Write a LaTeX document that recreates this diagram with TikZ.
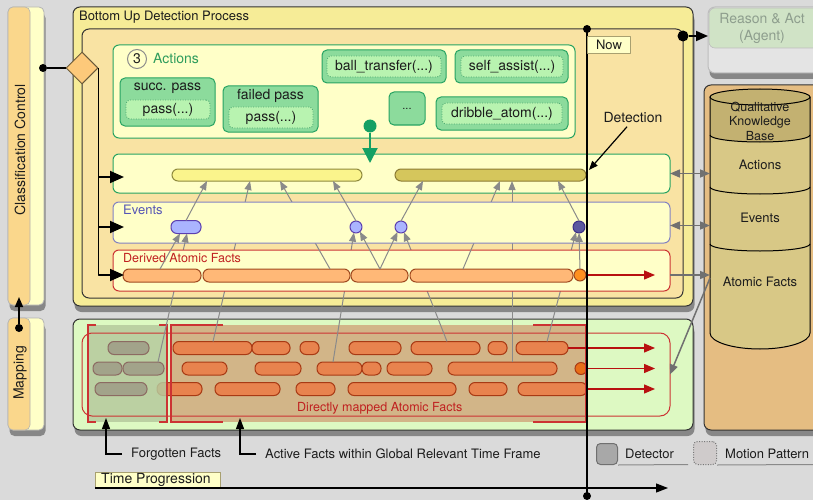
\documentclass[tikz,border=0pt]{standalone}
\usepackage{fontspec}
\setmainfont{TeX Gyre Heros}
\usetikzlibrary{shapes.geometric,arrows.meta,shadows}

\pgfdeclarelayer{bgl}
\pgfdeclarelayer{maplinks}
\pgfdeclarelayer{derl}
\pgfdeclarelayer{derlinks}
\pgfdeclarelayer{evl}
\pgfsetlayers{bgl,maplinks,derl,derlinks,evl,main}

\definecolor{bgc}{HTML}{DADADA}
\definecolor{txtc}{HTML}{1C1C1C}
\definecolor{dkc}{HTML}{333333}
\definecolor{edgec}{HTML}{B4B4B4}
\definecolor{paley}{HTML}{FFFFC8}
\definecolor{clsor}{HTML}{FAD78C}
\definecolor{budpc}{HTML}{F6EC97}
\definecolor{innerc}{HTML}{F9E3A3}
\definecolor{actg}{HTML}{27A362}
\definecolor{acttc}{HTML}{2E9C5C}
\definecolor{actfill}{HTML}{8CDB9C}
\definecolor{actin}{HTML}{B8F3B0}
\definecolor{actdot}{HTML}{4CA870}
\definecolor{grayc}{HTML}{8C8C8C}
\definecolor{ybarc}{HTML}{FAF48C}
\definecolor{ybarbc}{HTML}{8F8A3C}
\definecolor{obarc}{HTML}{D5C65C}
\definecolor{obarbc}{HTML}{8C7C34}
\definecolor{evbc}{HTML}{8282C2}
\definecolor{evtc}{HTML}{5555B5}
\definecolor{evpc}{HTML}{AAB4FF}
\definecolor{evpb}{HTML}{5B3FB0}
\definecolor{evdk}{HTML}{5B58A0}
\definecolor{evdkb}{HTML}{3B2E88}
\definecolor{redc}{HTML}{CC3333}
\definecolor{redtc}{HTML}{C02020}
\definecolor{redarc}{HTML}{B81010}
\definecolor{dpillc}{HTML}{FFB877}
\definecolor{dpillb}{HTML}{A04A20}
\definecolor{docc}{HTML}{FF9020}
\definecolor{mpillc}{HTML}{E8834E}
\definecolor{mpillb}{HTML}{A83A14}
\definecolor{mcirc}{HTML}{E86E18}
\definecolor{gpillc}{HTML}{A2A38A}
\definecolor{gpillb}{HTML}{8C6A62}
\definecolor{mapg}{HTML}{DDF9C2}
\definecolor{forg}{HTML}{B6C99D}
\definecolor{actv}{HTML}{D2B588}
\definecolor{kbc}{HTML}{E5BD82}
\definecolor{cylc}{HTML}{D8C886}
\definecolor{cyltc}{HTML}{C3B171}
\definecolor{agbody}{HTML}{E4E4E4}
\definecolor{agb}{HTML}{BDBDBD}
\definecolor{agentg}{HTML}{D0E3C6}
\definecolor{agentt}{HTML}{8E9E8E}
\definecolor{linkc}{HTML}{8A8A8A}
\definecolor{kbac}{HTML}{707070}
\definecolor{diamc}{HTML}{FDC97A}
\definecolor{dmb}{HTML}{6A5A3A}
\definecolor{pinc}{HTML}{14A064}
\definecolor{nowb}{HTML}{A8A070}
\definecolor{detf}{HTML}{A8A8A8}
\definecolor{detb}{HTML}{707070}
\definecolor{mpf}{HTML}{CFCBCB}
\definecolor{mpb}{HTML}{777777}
\definecolor{ulc}{HTML}{8A8A8A}

\newcommand\fsz[1]{\fontsize{#1}{#1}\selectfont}
% rectangle node given by its corners (x1,y1)-(x2,y2), y growing downwards
\newcommand\boxat[6]{\node[#6,anchor=north west,minimum width={(#4-#2)*1pt},minimum height={(#5-#3)*1pt},inner sep=0pt,outer sep=0pt] (#1) at (#2,#3) {};}
% horizontal pill from x1 to x2 centred on y
\newcommand\pillat[5]{\node[#5,minimum width={(#3-#2)*1pt}] (#1) at ({(#2+#3)/2},#4) {};}

% links that end on event items
\newcommand\linkLa{\draw[link] ([xshift=14.5pt]g2b.north) -- ([xshift=1pt]bp.south);}
\newcommand\linkLc{\draw[link] ([xshift=-6.5pt]m2c.north) -- (c1.250);}
\newcommand\linkLd{\draw[link] ([xshift=1.5pt]m1e.north) -- (c2.300);}
\newcommand\linkLf{\draw[link] ([xshift=5pt]m1g.north) -- (dc.240);}
\newcommand\linkDa{\draw[link] ([xshift=-2pt]d1.north) -- ([xshift=-6pt]bp.south);}
\newcommand\linkDc{\draw[link] ([xshift=0.5pt]d3.north) -- (c1.310);}
\newcommand\linkDd{\draw[link] ([xshift=0.5pt]d3.north) -- (c2.235);}
\newcommand\linkDf{\draw[link] (doc.north) -- (dc.south);}

\begin{document}
\begin{tikzpicture}[x=1pt,y=-1pt,font=\fsz{13},line join=round,
  every node/.append style={text=txtc},
  pillb/.style={draw,rounded corners=6pt,minimum height=13pt,inner sep=0pt,outer sep=0pt,line width=1pt},
  dpill/.style={pillb,fill=dpillc,draw=dpillb},
  mpill/.style={pillb,fill=mpillc,draw=mpillb},
  gpill/.style={pillb,fill=gpillc,draw=gpillb},
  barshape/.style={draw,rounded corners=6pt,minimum height=12pt,inner sep=0pt,outer sep=0pt,line width=1pt},
  rnd/.style={circle,minimum size=12pt,inner sep=0pt,outer sep=0pt,line width=1pt,draw},
  link/.style={draw=linkc,line width=1pt,-{Triangle[length=9pt,width=7pt]}},
  ctl/.style={draw=black,line width=1.8pt},
  ctlarr/.style={ctl,-{Triangle[length=14pt,width=12pt]}},
  kbarr/.style={draw=kbac,line width=1.5pt},
  bdot/.style={circle,fill=black,minimum size=8pt,inner sep=0pt,outer sep=0pt},
  lbl/.style={inner sep=0pt},
  abox/.style={draw=actg,fill=actfill,rounded corners=5pt,line width=1pt},
  ibox/.style={draw=actdot,dash pattern=on 1pt off 1.5pt,fill=actin,rounded corners=4pt,line width=0.8pt},
  shad/.style={drop shadow={shadow xshift=1.5pt,shadow yshift=-6pt,opacity=0.38,fill=black}},
  redarr/.style={draw=redarc,line width=1.3pt,-{Triangle[length=11pt,width=9pt]}},
  legarr/.style={draw=black,line width=1.2pt,-{Triangle[length=11pt,width=8pt]}},
  brk/.style={draw=redc,line width=1.2pt}]

\useasboundingbox (0,0) rectangle (813,500);

\begin{pgfonlayer}{bgl}
\fill[bgc] (0,0) rectangle (813,500);

% left control columns
\boxat{cls}{8}{7}{44}{305}{draw=edgec,fill=paley,rounded corners=5pt,line width=0.8pt,shad}
\boxat{clso}{8}{7}{30}{305}{draw=edgec,fill=clsor,rounded corners=5pt,line width=0.6pt}
\node[lbl,rotate=90,font=\fsz{14}] (clst) at (20,150) {Classification Control};
\boxat{mcol}{8}{318}{44}{430}{draw=edgec,fill=paley,rounded corners=5pt,line width=0.8pt,shad}
\boxat{mcolo}{8}{318}{30}{430}{draw=edgec,fill=clsor,rounded corners=5pt,line width=0.6pt}
\node[lbl,rotate=90,font=\fsz{14}] (mcolt) at (20,373) {Mapping};

% bottom up detection process
\boxat{bu}{73}{7}{693}{306}{draw=dkc,fill=budpc,rounded corners=7pt,line width=1pt,shad}
\node[lbl,anchor=west] (but) at (79,17) {Bottom Up Detection Process};
\boxat{inb}{82}{29}{683}{298}{draw=dkc,fill=innerc,rounded corners=7pt,line width=1pt}

% actions catalogue
\boxat{act}{113}{45}{575}{138}{draw=actg,fill=paley,rounded corners=6pt,line width=1pt}
\node[circle,draw=grayc,fill=paley,line width=1pt,minimum size=19pt,inner sep=0pt,font=\fsz{14}] (n3) at (137,59) {3};
\node[lbl,anchor=west,text=acttc,font=\fsz{14}] (actt) at (153,59) {Actions};

\boxat{sp}{120}{78}{215}{126}{abox}
\node[lbl,font=\fsz{14}] (spt) at (167.5,88) {succ. pass};
\boxat{spi}{126}{100}{210}{119}{ibox}
\node[lbl,font=\fsz{14}] (spit) at (spi.center) {pass(...)};

\boxat{fp}{223}{86}{318}{132}{abox}
\node[lbl,font=\fsz{14}] (fpt) at (270.5,96) {failed pass};
\boxat{fpi}{229}{107}{313}{128}{ibox}
\node[lbl,font=\fsz{14}] (fpit) at (fpi.center) {pass(...)};

\boxat{bt}{322}{50}{446}{83}{abox}
\boxat{bti}{327}{56}{441}{77}{ibox}
\node[lbl,font=\fsz{14}] (btit) at (bti.center) {ball\_transfer(...)};

\boxat{sa}{455}{50}{568}{83}{abox}
\boxat{sai}{461}{56}{563}{77}{ibox}
\node[lbl,font=\fsz{14}] (sait) at (sai.center) {self\_assist(...)};

\boxat{ell}{389}{92}{425}{125}{abox}
\node[lbl,font=\fsz{11}] (ellt) at (ell.center) {...};

\boxat{da}{436}{97}{568}{130}{abox}
\boxat{dai}{442}{103}{562}{124}{ibox}
\node[lbl,font=\fsz{14}] (dait) at (dai.center) {dribble\_atom(...)};

% detected actions
\boxat{det}{113}{154}{670}{193}{draw=actg,fill=paley,rounded corners=6pt,line width=1pt}
\pillat{yb}{172}{362}{175}{barshape,fill=ybarc,draw=ybarbc}
\pillat{ob}{395}{586}{175}{barshape,fill=obarc,draw=obarbc}

% mapping area
\boxat{mp}{73}{319}{693}{430}{draw=dkc,fill=mapg,rounded corners=7pt,line width=1pt,shad}
\fill[actv] (171,325) rectangle (586,422);
\pillat{m3a}{157}{202}{389}{mpill}
\fill[forg,opacity=0.85] (88,325) rectangle (167,422);

\pillat{g1a}{108}{149}{348}{gpill}
\pillat{g2a}{93}{122}{368.5}{gpill}
\pillat{g2b}{123}{164}{368.5}{gpill}
\pillat{g3a}{95}{147}{389}{gpill}

\pillat{m1a}{173}{252}{348}{mpill}
\pillat{m1b}{252}{290}{348}{mpill}
\pillat{m1c}{300}{319}{348}{mpill}
\pillat{m1d}{349}{401}{348}{mpill}
\pillat{m1e}{411}{480}{348}{mpill}
\pillat{m1f}{488}{507}{348}{mpill}
\pillat{m1g}{516}{568}{348}{mpill}

\pillat{m2a}{182}{227}{368.5}{mpill}
\pillat{m2b}{255}{301}{368.5}{mpill}
\pillat{m2c}{317}{362}{368.5}{mpill}
\pillat{m2d}{362}{381}{368.5}{mpill}
\pillat{m2e}{387}{432}{368.5}{mpill}
\pillat{m2f}{448}{557}{368.5}{mpill}
\node[rnd,fill=mcirc,draw=mpillb] (m2o) at (581,368.5) {};

\pillat{m3b}{215}{280}{389}{mpill}
\pillat{m3c}{296}{335}{389}{mpill}
\pillat{m3d}{348}{456}{389}{mpill}
\pillat{m3e}{469}{507}{389}{mpill}
\pillat{m3f}{518}{587}{389}{mpill}

\boxat{rr}{82}{333}{670}{416}{draw=redc,rounded corners=10pt,line width=1pt}
\draw[brk] (96,325) -| (88,422) -- (96,422);
\draw[brk] (159,325) -| (167,422) -- (159,422);
\draw[brk] (223,325) -| (171,422) -- (223,422);
\draw[brk] (533,325) -| (586,422) -- (533,422);
\node[lbl,anchor=west,text=redtc,font=\fsz{12.5}] (dmt) at (297,408) {Directly mapped Atomic Facts};

\coordinate (ra1) at (655,348);
\coordinate (ra2) at (655,368.5);
\coordinate (ra3) at (655,389);
\draw[redarr] (m1g.east) -- (ra1);
\draw[redarr] (m2o.east) -- (ra2);
\draw[redarr] (m3f.east) -- (ra3);

% knowledge base
\boxat{kb}{704}{85}{830}{430}{draw=dkc,fill=kbc,rounded corners=7pt,line width=1pt,shad}
\fill[cylc] (710,97) -- (710,333) arc[start angle=180,end angle=0,x radius=50,y radius=16] -- (810,97) -- cycle;
\fill[cyltc] (710,97) -- (710,135) arc[start angle=180,end angle=0,x radius=50,y radius=7] -- (810,97) -- cycle;
\draw[line width=1pt,fill=cyltc] (760,97) ellipse[x radius=50,y radius=8];
\draw[line width=1pt] (710,135) arc[start angle=180,end angle=0,x radius=50,y radius=7];
\draw[line width=1pt] (710,187) arc[start angle=180,end angle=0,x radius=50,y radius=7];
\draw[line width=1pt] (710,244) arc[start angle=180,end angle=0,x radius=50,y radius=7];
\draw[line width=1pt] (710,97) -- (710,333) arc[start angle=180,end angle=0,x radius=50,y radius=16] -- (810,97);
\coordinate (cylw) at (710,219);
\node[align=center,font={\fontsize{12.5}{14.5}\selectfont}] (kbq) at (760,121) {Qualitative\\Knowledge\\Base};
\node (kba) at (760,165) {Actions};
\node (kbe) at (760,218) {Events};
\node (kbf) at (760,282) {Atomic Facts};

% agent
\boxat{ag}{708}{7}{830}{73}{draw=agb,fill=agbody,rounded corners=7pt,line width=1pt,shad}
\boxat{agh}{709}{8}{829}{48}{fill=agentg,draw=agb,rounded corners=6pt,line width=0.6pt}
\node[align=center,text=agentt,font={\fontsize{14}{17}\selectfont}] (agt) at (762,28) {Reason \& Act\\(Agent)};

% legend
\node[lbl,anchor=west] (fft) at (131,454) {Forgotten Facts};
\coordinate (ffa) at (106,418);
\draw[legarr] ([xshift=-9pt]fft.west) -| (ffa);
\node[lbl,anchor=west] (aft) at (265,454) {Active Facts within Global Relevant Time Frame};
\coordinate (afa) at (240,418);
\draw[legarr] ([xshift=-9pt]aft.west) -| (afa);

\boxat{tp}{95}{472}{220}{488}{draw=nowb,fill=paley,line width=1pt}
\node[lbl,anchor=west,font=\fsz{14}] (tpt) at (101,480) {Time Progression};
\coordinate (tpa) at (668,489);
\draw[legarr,-{Triangle[length=12pt,width=9pt]}] (tp.south west) -- (tp.south west -| tpa);

\node[draw=detb,fill=detf,rounded corners=4pt,minimum size=21pt,inner sep=0pt,line width=1pt] (ldet) at (607,454) {};
\node[lbl,anchor=west] (ldett) at (625,454) {Detector};
\coordinate (lu1) at (688,464.5);
\draw[draw=ulc,line width=1pt] (ldet.south east) -- (lu1);
\node[draw=mpb,dash pattern=on 1pt off 1.5pt,fill=mpf,rounded corners=4pt,minimum size=23pt,inner sep=0pt,line width=1pt] (lmp) at (705,453) {};
\node[lbl,anchor=west] (lmpt) at (725,454) {Motion Pattern};
\coordinate (lu2) at (813,464.5);
\draw[draw=ulc,line width=1pt] (lmp.south east) -- (lu2);
\end{pgfonlayer}

% derived atomic facts
\begin{pgfonlayer}{derl}
\boxat{der}{113}{250}{670}{291}{draw=redc,fill=paley,rounded corners=6pt,line width=1pt}
\node[lbl,anchor=west,text=redtc,font=\fsz{12.5}] (dert) at (123,258) {Derived Atomic Facts};
\pillat{d1}{123}{201}{275.5}{dpill}
\pillat{d2}{203}{350}{275.5}{dpill}
\pillat{d3}{351}{408}{275.5}{dpill}
\pillat{d4}{410}{573}{275.5}{dpill}
\node[rnd,fill=docc,draw=dpillb] (doc) at (580,275) {};
\coordinate (rd) at (655,275);
\draw[redarr] (doc.east) -- (rd);
\end{pgfonlayer}

% events
\begin{pgfonlayer}{evl}
\boxat{ev}{113}{202}{670}{243}{draw=evbc,fill=paley,rounded corners=6pt,line width=1pt}
\node[lbl,anchor=west,text=evtc] (evt) at (123,210) {Events};
\end{pgfonlayer}

\pillat{bp}{171}{201}{227}{pillb,fill=evpc,draw=evpb}
\node[rnd,fill=evpc,draw=evpb] (c1) at (356,227) {};
\node[rnd,fill=evpc,draw=evpb] (c2) at (401,227) {};
\node[rnd,fill=evdk,draw=evdkb] (dc) at (579,227) {};

% links from directly mapped facts
\begin{pgfonlayer}{maplinks}
\linkLa
\draw[link] ([xshift=0.5pt]m1a.north) -- ([xshift=-17pt]yb.south);
\linkLc
\linkLd
\draw[link] ([xshift=9.5pt]m2f.north) -- ([xshift=21.5pt]ob.south);
\linkLf
\end{pgfonlayer}

% links from derived facts
\begin{pgfonlayer}{derlinks}
\linkDa
\draw[link] ([xshift=53.5pt]d2.north) -- ([xshift=13pt]yb.south);
\linkDc
\linkDd
\draw[link] ([xshift=-28.5pt]d4.north) -- ([xshift=9.5pt]ob.south);
\linkDf
\end{pgfonlayer}

% arrow ends that reach into the event row
\begin{pgfonlayer}{evl}
\begin{scope}
\clip (ev.north west) rectangle (ev.south east);
\linkLa \linkLc \linkLd \linkLf
\linkDa \linkDc \linkDd \linkDf
\end{scope}
\end{pgfonlayer}

% links from events to actions
\draw[link] (bp.north) -- ([xshift=-60pt]yb.south);
\draw[link] (c1.north) -- ([xshift=66pt]yb.south);
\draw[link] (c2.north) -- ([xshift=-67.5pt]ob.south);
\draw[link] (dc.north) -- ([xshift=67.5pt]ob.south);

% knowledge base exchange
\draw[kbarr,{Triangle[length=10pt,width=8pt]}-{Triangle[length=10pt,width=8pt]}] (det.east) -- (det.east -| cylw);
\coordinate (eva) at ([yshift=-3pt]ev.east);
\draw[kbarr,{Triangle[length=10pt,width=8pt]}-{Triangle[length=10pt,width=8pt]}] (eva) -- (eva -| cylw);
\coordinate (dea) at ([yshift=-4.5pt]der.east);
\draw[kbarr,-{Triangle[length=10pt,width=8pt]}] (dea) -- (dea -| cylw);
\coordinate (kbo) at (710,278);
\draw[kbarr,-{Triangle[length=10pt,width=8pt]}] (kbo) -- (rr.east);

% classification control
\node[diamond,draw=dmb,fill=diamc,minimum width=32pt,minimum height=32pt,inner sep=0pt,line width=1pt] (dm) at (82,68) {};
\node[bdot] (cdot) at (43,68) {};
\draw[ctl] (cdot) -- (dm.west);
\coordinate (ctip) at (124,0);
\coordinate (ca1) at (98,177);
\coordinate (ca2) at (98,227);
\coordinate (ca3) at (98,275);
\draw[ctlarr] (dm.east) |- (ca3 -| ctip);
\draw[ctlarr] (ca1) -- (ca1 -| ctip);
\draw[ctlarr] (ca2) -- (ca2 -| ctip);

\node[bdot] (mdot) at (19,328) {};
\coordinate (mtip) at (19,297);
\draw[draw=black,line width=1.5pt,-{Triangle[length=10pt,width=8pt]}] (mdot) -- (mtip);

% action pin
\node[circle,fill=pinc,minimum size=13pt,inner sep=0pt] (gpin) at (370,126) {};
\coordinate (gtip) at (370,163);
\draw[draw=pinc,line width=2pt,-{Triangle[length=15pt,width=15pt]}] (gpin) -- (gtip);

% detection label
\node[font=\fsz{14}] (dlab) at (633,118) {Detection};
\coordinate (dtip) at (589,170);
\draw[draw=black,line width=1.2pt,-{Triangle[length=9pt,width=7pt]}] ([xshift=-6pt]dlab.south) -- (dtip);

% now line
\coordinate (ntop) at (587,29);
\coordinate (nbot) at (587,496);
\draw[black,line width=1.3pt] (ntop) -- (nbot);
\node[bdot] (nd1) at (ntop) {};
\node[bdot] (nd2) at (nbot) {};
\node[draw=nowb,fill=paley,minimum width=43pt,minimum height=17pt,inner sep=0pt,anchor=north west,line width=1pt] (now) at (587,36) {Now};

% hand over to the agent
\node[bdot,minimum size=11pt] (adot) at (683,36) {};
\draw[draw=black,line width=1.8pt,-{Triangle[length=12pt,width=10pt]}] (adot) -- (adot -| ag.west);
\end{tikzpicture}
\end{document}
